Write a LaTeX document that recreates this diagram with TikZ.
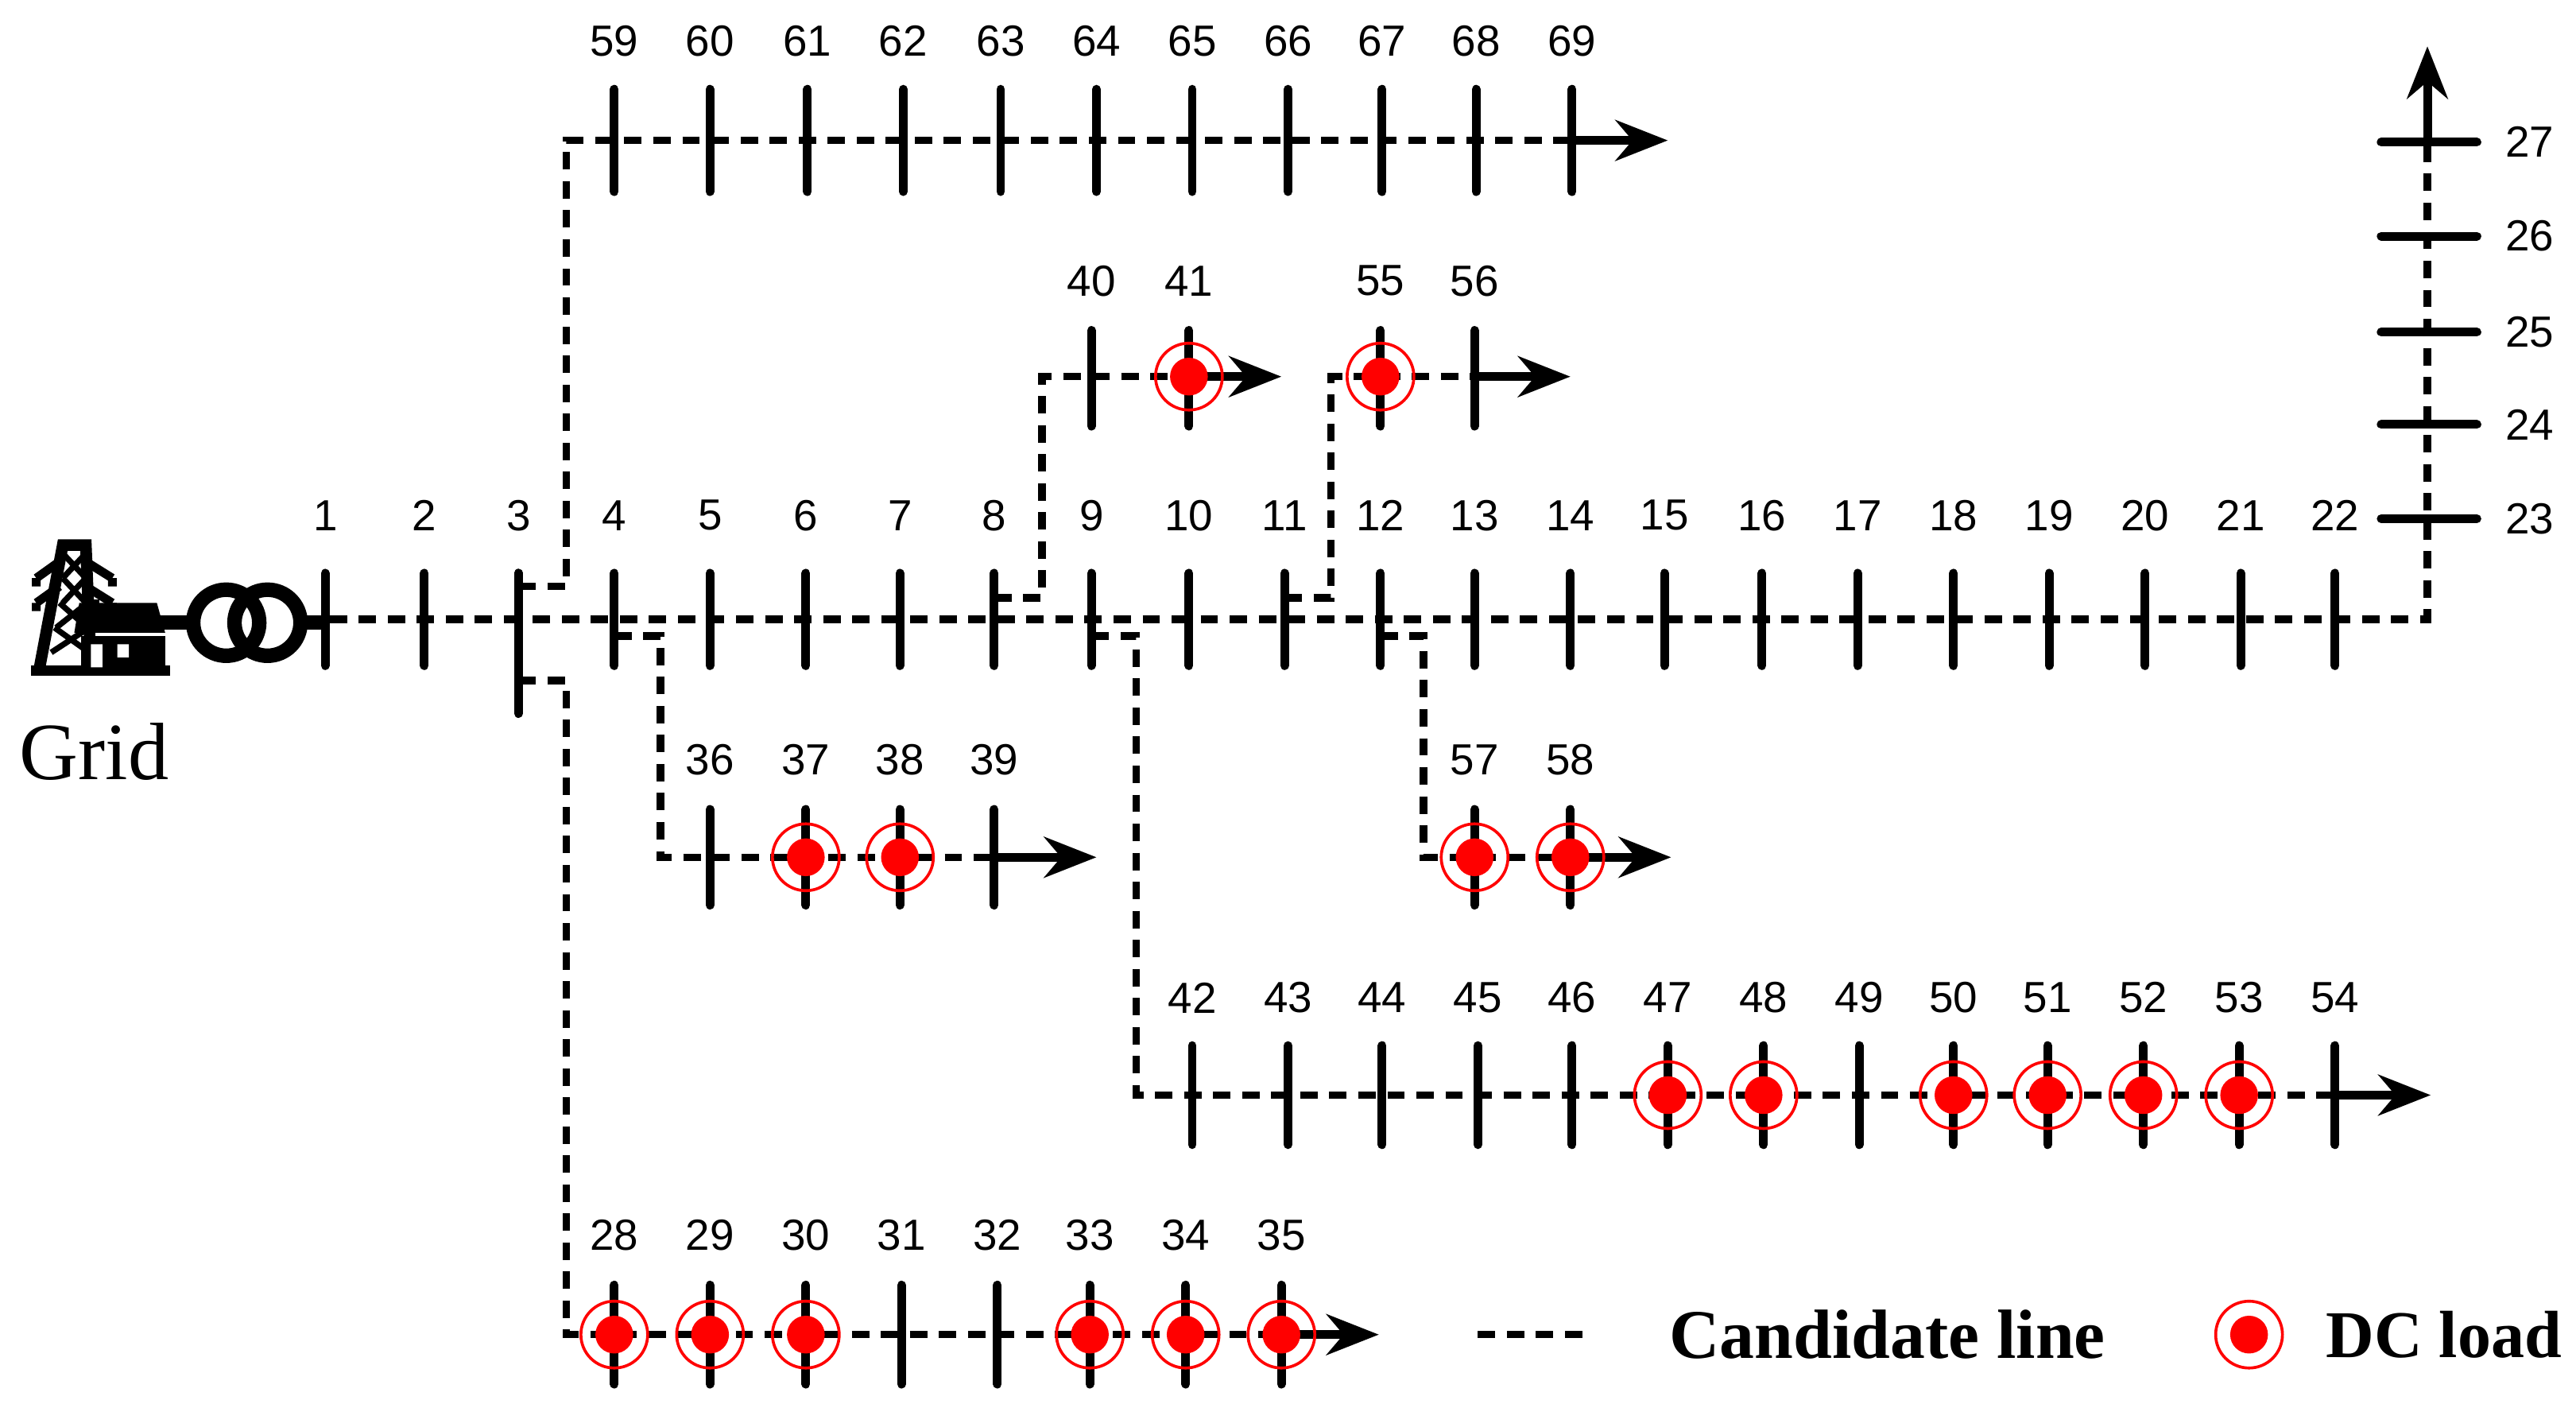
\documentclass[tikz,border=0pt]{standalone}
\usepackage{fontspec}
\setmainfont{Liberation Serif}
\newfontfamily\arialfont{Liberation Sans}
\usetikzlibrary{arrows.meta}
\begin{document}
\begin{tikzpicture}[x=0.01cm,y=-0.01cm,
	busbar/.style={line width=1.5pt, line cap=round},
	cand/.style={dash pattern=on 3pt off 2pt, line width=1.3pt},
	feeder/.style={line width=1.5pt, -{Stealth[length=9pt,width=7pt]}},
	buslabel/.style={font=\arialfont\fontsize{7.5}{8}\selectfont, inner sep=0pt},
	dcload/.style={circle, fill=red, minimum size=6.5pt, inner sep=0pt},
	dcring/.style={circle, draw=red, line width=0.5pt, minimum size=11.5pt, inner sep=0pt},
	]
	\useasboundingbox (0,0) rectangle (1560,850);
	%Main feeder
	\foreach \n/\x in {1/197,2/257,3/314,4/372,5/430,6/488,7/545,8/602,9/661,10/720,11/778,
		12/836,13/893,14/951,15/1008,16/1067,17/1125,18/1183,19/1241,20/1299,21/1357,22/1414}{
		\coordinate (b\n) at (\x,375);
		\draw[busbar] (\x,347) -- (\x,403);
		\node[buslabel] (l\n) at (\x,312) {\n};
	}
	\draw[busbar] (314,347) -- (314,432);
	\coordinate (tr) at (182,375);
	\coordinate (bend) at (1470,375);
	\coordinate (top) at (1470,28);
	\draw[cand] (tr) -- (bend) -- (1470,86);
	\draw[feeder] (1470,86) -- (top);
	\foreach \n/\y in {23/314,24/257,25/201,26/143,27/86}{
		\coordinate (b\n) at (1470,\y);
		\draw[busbar] (1442,\y) -- (1500,\y);
		\node[buslabel] (l\n) at (1532,\y) {\n};
	}
	%Branch 59-69
	\draw[cand] (314,355) -- (343,355) -- (343,85) -- (952,85);
	\foreach \n/\x in {59/372,60/430,61/489,62/547,63/606,64/664,65/722,66/780,67/837,68/894,69/952}{
		\coordinate (b\n) at (\x,85);
		\draw[busbar] (\x,54) -- (\x,116);
		\node[buslabel] (l\n) at (\x,25) {\n};
	}
	\draw[feeder] (b69) -- (1010,85);
	%Branch 40-41
	\draw[cand] (602,362) -- (631,362) -- (631,228) -- (720,228);
	\draw[feeder] (720,228) -- (776,228);
	%Branch 55-56
	\draw[cand] (778,362) -- (806,362) -- (806,228) -- (893,228);
	\draw[feeder] (893,228) -- (951,228);
	\foreach \n/\x in {40/661,41/720,55/836,56/893}{
		\coordinate (b\n) at (\x,228);
		\draw[busbar] (\x,200) -- (\x,258);
		\node[buslabel] (l\n) at (\x,170) {\n};
	}
	%Branch 36-39
	\draw[cand] (372,385) -- (400,385) -- (400,519) -- (602,519);
	\draw[feeder] (602,519) -- (664,519);
	%Branch 57-58
	\draw[cand] (836,385) -- (862,385) -- (862,519) -- (951,519);
	\draw[feeder] (951,519) -- (1012,519);
	\foreach \n/\x in {36/430,37/488,38/545,39/602,57/893,58/951}{
		\coordinate (b\n) at (\x,519);
		\draw[busbar] (\x,490) -- (\x,548);
		\node[buslabel] (l\n) at (\x,460) {\n};
	}
	%Branch 42-54
	\draw[cand] (661,385) -- (688,385) -- (688,663) -- (1414,663);
	\draw[feeder] (1414,663) -- (1472,663);
	\foreach \n/\x in {42/722,43/780,44/837,45/895,46/952,47/1010,48/1068,49/1126,
		50/1183,51/1240,52/1298,53/1356,54/1414}{
		\coordinate (b\n) at (\x,663);
		\draw[busbar] (\x,633) -- (\x,693);
		\node[buslabel] (l\n) at (\x,604) {\n};
	}
	%Branch 28-35
	\draw[cand] (314,412) -- (343,412) -- (343,808) -- (776,808);
	\draw[feeder] (776,808) -- (835,808);
	\foreach \n/\x in {28/372,29/430,30/488,31/546,32/604,33/660,34/718,35/776}{
		\coordinate (b\n) at (\x,808);
		\draw[busbar] (\x,778) -- (\x,838);
		\node[buslabel] (l\n) at (\x,748) {\n};
	}
	%DC loads
	\foreach \n in {41,55,37,38,57,58,47,48,50,51,52,53,28,29,30,33,34,35}{
		\node[dcring] (r\n) at (b\n) {};
		\node[dcload] (d\n) at (b\n) {};
	}
	%Transformer
	\draw[line width=2.5pt] (137,377) circle (20);
	\draw[line width=2.5pt] (162,377) circle (20);
	\draw[line width=2.5pt] (95,377) -- (117,377);
	\draw[line width=2.5pt] (182,377) -- (197,377);
	%Grid icon
	\fill (19,403) rectangle (103,409);
	\draw[line width=2pt] (24,404) -- (38,330) -- (52,330) -- (55,404);
	\draw[line width=1pt] (38,335) -- (52,350) (52,335) -- (38,350) (38,350) -- (52,365) (52,350) -- (38,365)
		(36,365) -- (53,380) (53,365) -- (34,380) (33,380) -- (54,395) (54,380) -- (31,395);
	\draw[line width=1.5pt] (22,350) -- (36,340) (52,340) -- (68,350) (22,350) -- (22,355) (68,350) -- (68,355)
		(22,365) -- (36,355) (52,355) -- (68,365) (22,365) -- (22,370) (68,365) -- (68,370);
	\fill (95,365) -- (100,383) -- (45,383) -- (48,365) -- cycle;
	\fill (55,363) rectangle (60,372);
	\fill (49,385) rectangle (100,404);
	\fill[white] (55,390) rectangle (62,404) (71,390) rectangle (78,398);
	\node[font=\fontsize{14}{16}\selectfont, inner sep=0pt] (grid) at (57,455) {Grid};
	%Legend
	\coordinate (lg1) at (895,808);
	\coordinate (lg2) at (962,808);
	\draw[cand] (lg1) -- (lg2);
	\node[font=\bfseries\fontsize{12}{14}\selectfont, inner sep=0pt] (cl) at (1143,808) {Candidate line};
	\node[dcring] (rl) at (1362,808) {};
	\node[dcload] (dl) at (1362,808) {};
	\node[font=\bfseries\fontsize{11.5}{14}\selectfont, inner sep=0pt, anchor=east] (dct) at (1552,808) {DC load};
\end{tikzpicture}
\end{document}
